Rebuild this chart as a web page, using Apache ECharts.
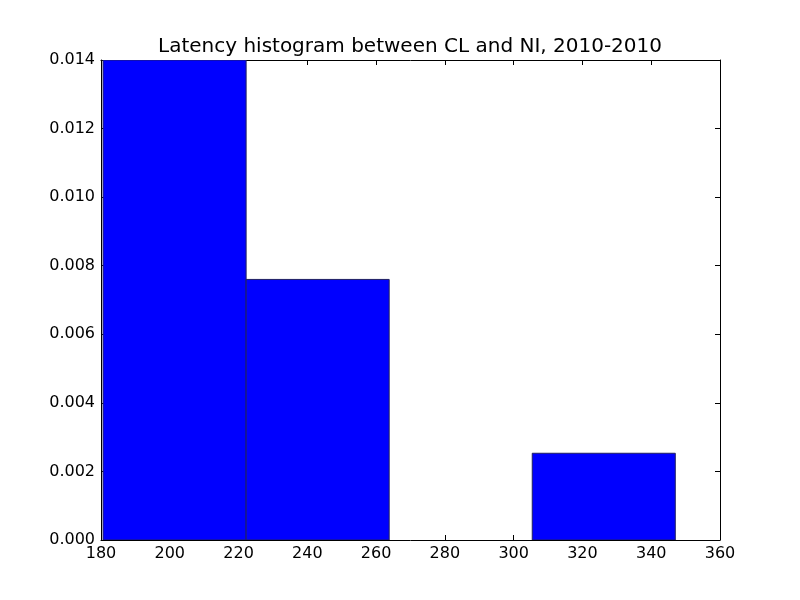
<!DOCTYPE html>
<html>
<head>
<meta charset="utf-8">
<script src="https://cdn.jsdelivr.net/npm/echarts@6/dist/echarts.min.js"></script>
<style>
  html, body { margin: 0; padding: 0; background: #fff; }
  #chart { width: 800px; height: 600px; }
</style>
</head>
<body>
<div id="chart"></div>
<script>
// histogram bins (left edge, right edge) and density values
var binStarts = [180.6, 222.2, 263.8, 305.4];
var binEnds = [222.2, 263.8, 305.4, 347.0];
var densities = [0.014, 0.0076, 0, 0.00253];
var xTicks = [180, 200, 220, 240, 260, 280, 300, 320, 340, 360];
var yTicks = [0, 0.002, 0.004, 0.006, 0.008, 0.010, 0.012, 0.014];

var font = 'DejaVu Sans';

var data = binStarts.map(function(s, i) {
    return [s, binEnds[i], densities[i]];
});

var chart = echarts.init(document.getElementById('chart'));

function axisX(pos, show) {
    return {
        type: 'value', position: pos, min: 180, max: 360, interval: 20,
        axisLine: { show: true, onZero: false, lineStyle: { color: '#000', width: 1 } },
        axisTick: { show: true, inside: true, length: 5, lineStyle: { color: '#000' } },
        axisLabel: { show: show, color: '#000', fontFamily: font, fontSize: 16, margin: 6 },
        splitLine: { show: false }
    };
}
function axisY(pos, show) {
    return {
        type: 'value', position: pos, min: 0, max: 0.014, interval: 0.002,
        axisLine: { show: true, onZero: false, lineStyle: { color: '#000', width: 1 } },
        axisTick: { show: true, inside: true, length: 5, lineStyle: { color: '#000' } },
        axisLabel: {
            show: show, color: '#000', fontFamily: font, fontSize: 16, margin: 6,
            formatter: function(v) { return v.toFixed(3); }
        },
        splitLine: { show: false }
    };
}

var option = {
    animation: false,
    title: {
        text: 'Latency histogram between CL and NI, 2010-2010',
        left: 405, top: 32, textAlign: 'center',
        textStyle: { fontFamily: font, fontSize: 20, fontWeight: 'normal', color: '#000' }
    },
    grid: { left: 101, right: 80, top: 60, bottom: 60 },
    xAxis: [axisX('bottom', true), axisX('top', false)],
    yAxis: [axisY('left', true), axisY('right', false)],
    series: [{
        type: 'custom',
        xAxisIndex: 0, yAxisIndex: 0,
        clip: true,
        encode: { x: [0, 1], y: 2 },
        data: data,
        renderItem: function(params, api) {
            if (api.value(2) <= 0) return null;
            var p0 = api.coord([api.value(0), api.value(2)]);
            var p1 = api.coord([api.value(1), 0]);
            return {
                type: 'rect',
                shape: { x: p0[0], y: p0[1], width: p1[0] - p0[0], height: p1[1] - p0[1] },
                style: { fill: '#0000ff', stroke: '#202060', lineWidth: 1 }
            };
        }
    }]
};

chart.setOption(option);
</script>
</body>
</html>
